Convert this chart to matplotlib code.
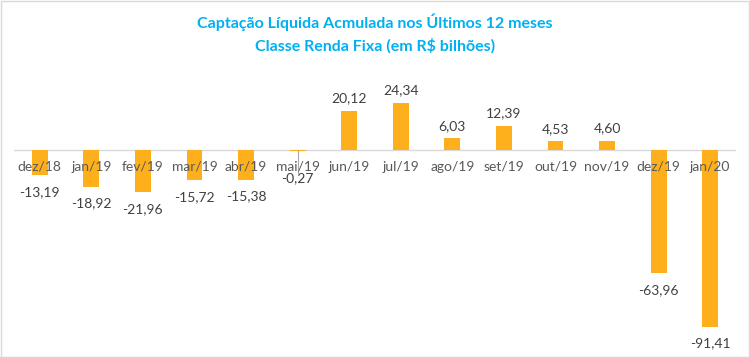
import matplotlib
matplotlib.use('Agg')
import matplotlib.pyplot as plt
from matplotlib.patches import Rectangle

plt.rcParams['font.family'] = ['Lato', 'DejaVu Sans']

# data
months = ['dez/18', 'jan/19', 'fev/19', 'mar/19', 'abr/19', 'mai/19', 'jun/19',
          'jul/19', 'ago/19', 'set/19', 'out/19', 'nov/19', 'dez/19', 'jan/20']
values = [-13.19, -18.92, -21.96, -15.72, -15.38, -0.27, 20.12,
          24.34, 6.03, 12.39, 4.53, 4.60, -63.96, -91.41]

bar_color = '#FDB01B'
text_color = '#404040'
title_color = '#00B0F0'

fig = plt.figure(figsize=(7.5, 3.57), dpi=100)
W, H = 750, 357
# plot area in pixels: left 14, right 736, top 60, bottom 340
ax = fig.add_axes([14 / W, 1 - 340 / H, (736 - 14) / W, (340 - 60) / H])

x = list(range(len(months)))
ax.bar(x, values, width=0.31, color=bar_color, zorder=2)
ax.set_xlim(-0.5, len(months) - 0.5)
ax.set_ylim(-98.4, 46.6)
ax.axhline(0, color='#D9D9D9', lw=1, zorder=1)
# vertical axis line crossing near mai/19
ax.plot([5, 5], [0, -12], color='#A6A6A6', lw=0.8, zorder=1)

for xi, m in zip(x, months):
    ax.annotate(m, (xi, 0), xytext=(0, -12), textcoords='offset points',
                ha='center', va='center', fontsize=10, color='#595959')

for xi, v in zip(x, values):
    label = f'{v:.2f}'.replace('.', ',')
    if v >= 0:
        ax.annotate(label, (xi, v), xytext=(0, 9), textcoords='offset points',
                    ha='center', va='center', fontsize=10, color=text_color)
    elif abs(v) < 1:
        ax.annotate(label, (xi, v), xytext=(0, -20), textcoords='offset points',
                    ha='center', va='center', fontsize=10, color=text_color)
    else:
        ax.annotate(label, (xi, v), xytext=(0, -12), textcoords='offset points',
                    ha='center', va='center', fontsize=10, color=text_color)

ax.axis('off')

fig.text(0.5, 1 - 22 / H, 'Captação Líquida Acmulada nos Últimos 12 meses',
         ha='center', va='center', fontsize=11.5, fontweight='bold', color=title_color)
fig.text(0.5, 1 - 46 / H, 'Classe Renda Fixa (em R$ bilhões)',
         ha='center', va='center', fontsize=11.5, fontweight='bold', color=title_color)

fig.patches.append(Rectangle((0.5 / W, 0.5 / H), 1 - 1.5 / W, 1 - 1.5 / H,
                             transform=fig.transFigure, fill=False,
                             edgecolor='#D9D9D9', lw=1))

fig.savefig('out.png', dpi=100)
